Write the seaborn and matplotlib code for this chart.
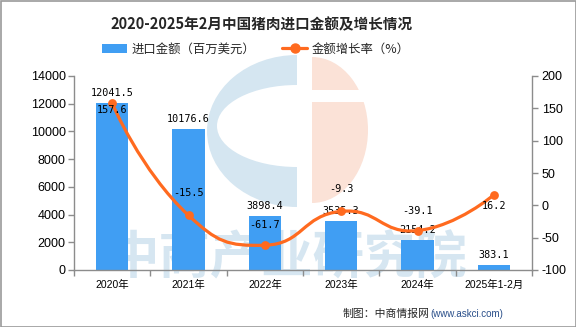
import numpy as np
import pandas as pd
import matplotlib
matplotlib.use("Agg")
import matplotlib.pyplot as plt
import seaborn as sns
from matplotlib.path import Path
from matplotlib.patches import PathPatch, Patch, Rectangle, Ellipse
from matplotlib.lines import Line2D
from matplotlib.transforms import Affine2D

# ---------------- data ----------------
categories = ["2020年", "2021年", "2022年", "2023年", "2024年", "2025年1-2月"]
import_value = [12041.5, 10176.6, 3898.4, 3535.3, 2154.2, 383.1]
growth_rate = [157.6, -15.5, -61.7, -9.3, -39.1, 16.2]
title = "2020-2025年2月中国猪肉进口金额及增长情况"
bar_name = "进口金额（百万美元）"
line_name = "金额增长率（%）"
left_ticks = [0, 2000, 4000, 6000, 8000, 10000, 12000, 14000]
right_ticks = [-100, -50, 0, 50, 100, 150, 200]

# ---------------- style ----------------
sns.set_style("white")
plt.rcParams["font.family"] = ["Noto Sans CJK SC", "DejaVu Sans"]
BAR_C = "#409EF3"
LINE_C = "#FF6A1F"
AX_C = "#8c8c8c"
W, H = 576, 327

fig = plt.figure(figsize=(W / 100, H / 100), dpi=100)
fig.patch.set_facecolor("white")

def fx(x):
    return x / W

def fy(y):
    return 1 - y / H

# pixel-space transform (y from top)
pix = Affine2D().scale(1, -1).translate(0, H)

# ---- background logo watermark ----
blue_wm = "#d5e6f1"
orange_wm = "#fbe2d7"
clip_left = Rectangle((150, 0), 147, H, transform=pix)
clip_right = Rectangle((312, 0), 120, H, transform=pix)
fig.add_artist(clip_left)
fig.add_artist(clip_right)
clip_left.set_visible(False)
clip_right.set_visible(False)
e1 = Ellipse((297, 131), 180, 152, facecolor=blue_wm, edgecolor="none",
             transform=pix, zorder=-3)
e2 = Ellipse((297, 126), 160, 82, facecolor="white", edgecolor="none",
             transform=pix, zorder=-2.9)
e3 = Ellipse((312, 130), 112, 146, facecolor=orange_wm, edgecolor="none",
             transform=pix, zorder=-3)
for art, clip in [(e1, clip_left), (e2, clip_left), (e3, clip_right)]:
    fig.add_artist(art)
    art.set_clip_path(clip)
fig.add_artist(Rectangle((312, 90), 60, 12, facecolor="white", edgecolor="none",
                         transform=pix, zorder=-2.8))
fig.text(fx(287), fy(257), "中商产业研究院", fontsize=37, fontweight="bold",
         color="#d6e6f1", ha="center", va="center", zorder=-2.5)

# ---------------- axes ----------------
ax = fig.add_axes([fx(74), fy(270), fx(532) - fx(74), fy(76) - fy(270)])
ax.patch.set_alpha(0)
df = pd.DataFrame({"cat": categories, "val": import_value})
sns.barplot(data=df, x="cat", y="val", ax=ax, color=BAR_C, saturation=1,
            width=0.42, linewidth=0, zorder=2)
ax.set_xlim(-0.5, len(categories) - 0.5)
ax.set_ylim(0, 14000)
ax.set_xlabel("")
ax.set_ylabel("")
ax.set_yticks(left_ticks)
ax.set_yticklabels([str(t) for t in left_ticks], fontfamily="Liberation Sans", fontsize=9)
ax.tick_params(axis="y", length=4, color=AX_C, width=1, pad=2, labelcolor="black", left=True)
pos = np.arange(len(categories))
ax.set_xticks(pos)
ax.set_xticklabels(categories, fontfamily=["Liberation Sans", "Noto Sans CJK SC"], fontsize=7.5)
ax.set_xticks(np.arange(len(categories) + 1) - 0.5, minor=True)
ax.tick_params(axis="x", which="major", length=0, pad=7, labelcolor="black")
ax.tick_params(axis="x", which="minor", length=4, color=AX_C, width=1, bottom=True)
for s in ["top", "right"]:
    ax.spines[s].set_visible(False)
for s in ["left", "bottom"]:
    ax.spines[s].set_color(AX_C)
    ax.spines[s].set_linewidth(1)
ax.grid(False)

for i, v in enumerate(import_value):
    ax.annotate(f"{v:.1f}", (i, v), xytext=(0, 7.3), textcoords="offset points",
                ha="center", va="center", fontsize=7.3, fontfamily="DejaVu Sans Mono",
                color="black", zorder=5)

ax2 = ax.twinx()
ax2.set_ylim(-100, 200)
ax2.set_yticks(right_ticks)
ax2.set_yticklabels([str(t) for t in right_ticks], fontfamily="Liberation Sans", fontsize=9)
ax2.tick_params(axis="y", length=4, color=AX_C, width=1, pad=3, labelcolor="black", right=True)
for s in ["top", "left", "bottom"]:
    ax2.spines[s].set_visible(False)
ax2.spines["right"].set_color(AX_C)
ax2.spines["right"].set_linewidth(1)
ax2.grid(False)

# smooth curve (ECharts-like bezier, smooth = 0.5) computed in pixel-proportional space
sx = (532 - 74) / len(categories)
sy = 194 / 300
P = np.column_stack([pos * sx, np.array(growth_rate) * sy])
n = len(P)
smooth = 0.5
verts = [P[0]]
codes = [Path.MOVETO]
cp0 = P[0].copy()
for i in range(1, n):
    p = P[i]
    if i < n - 1:
        v = P[i + 1] - P[i - 1]
        d0 = np.linalg.norm(P[i] - P[i - 1])
        d1 = np.linalg.norm(P[i + 1] - P[i])
        r = d1 / (d0 + d1)
        cp1 = p - v * smooth * (1 - r)
        nxt = p + v * smooth * r
    else:
        cp1 = p.copy()
        nxt = p.copy()
    verts += [cp0, cp1, p]
    codes += [Path.CURVE4] * 3
    cp0 = nxt
verts = np.array(verts) / np.array([sx, sy])
ax2.add_patch(PathPatch(Path(verts, codes), facecolor="none", edgecolor=LINE_C,
                        lw=2.3, zorder=3, capstyle="round"))
sns.scatterplot(x=pos, y=growth_rate, ax=ax2, color=LINE_C, s=40, linewidth=0, zorder=4,
                legend=False)

label_dy = [-4.5, 16, 14.5, 16, 14, -8]
for i, v in enumerate(growth_rate):
    ax2.annotate(f"{v:.1f}", (i, v), xytext=(0, label_dy[i]), textcoords="offset points",
                 ha="center", va="center", fontsize=7.3, fontfamily="DejaVu Sans Mono",
                 color="black", zorder=6)

# ---------------- title / legend / footer ----------------
fig.text(fx(262), fy(24), title, fontsize=10.5, fontweight="bold", ha="center", va="center")
handles = [Patch(facecolor=BAR_C, edgecolor="none"),
           Line2D([0], [0], color=LINE_C, lw=2.3, marker="o", markersize=6.5)]
fig.legend(handles, [bar_name, line_name], loc="center", ncol=2, frameon=False,
           bbox_to_anchor=(fx(256), fy(49)), fontsize=8.9, handlelength=2.0,
           handleheight=0.75, handletextpad=0.35, columnspacing=2.2, borderpad=0)
fig.text(fx(430), fy(314), "制图：中商情报网", fontsize=7.8, ha="right", va="center")
fig.text(fx(430), fy(314), "(www.askci.com)", fontsize=7, ha="left", va="center",
         color="#2a4f8a", fontfamily="Liberation Sans")

fig.add_artist(Rectangle((0.5, 0.5), W - 1, H - 1, transform=pix, fill=False,
                         edgecolor="#9a9a9a", lw=1.2, zorder=10))

fig.savefig("out.png", dpi=100)
